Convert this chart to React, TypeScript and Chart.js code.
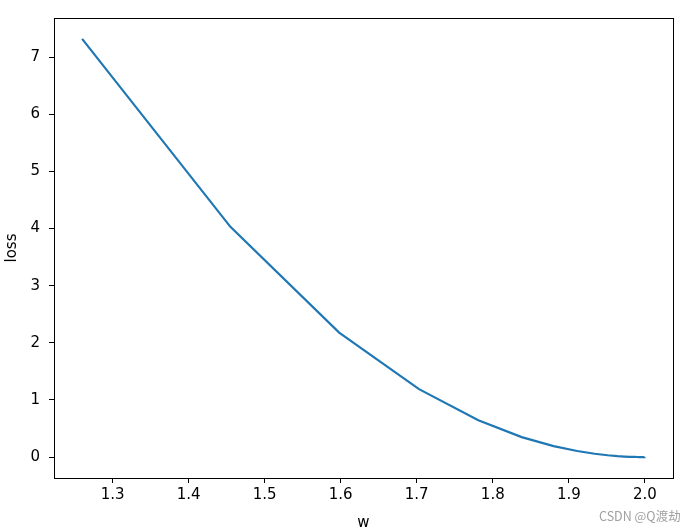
import React, { useEffect, useRef } from "react";
import { Chart, registerables } from "chart.js";

Chart.register(...registerables);

const wValues = [1.26, 1.455, 1.598, 1.703, 1.781, 1.838, 1.88, 1.911, 1.934, 1.951, 1.964, 1.973, 1.98, 1.986, 1.99, 1.992, 1.994, 1.996, 1.997, 1.998, 1.9985, 1.999, 1.9995];
const lossValues = [7.32, 4.03, 2.18, 1.19, 0.645, 0.35, 0.193, 0.106, 0.058, 0.032, 0.017, 0.0097, 0.0054, 0.0026, 0.0013, 0.0009, 0.0005, 0.0002, 0.0001, 0.00005, 0.00003, 0.00001, 0.0];
const xTicks = [1.3, 1.4, 1.5, 1.6, 1.7, 1.8, 1.9, 2.0];
const yTicks = [0, 1, 2, 3, 4, 5, 6, 7];

const FONT = "'DejaVu Sans', sans-serif";

const frame = {
  id: "frame",
  afterDraw(chart: any) {
    const { ctx, chartArea } = chart;
    ctx.save();
    ctx.strokeStyle = "#000";
    ctx.lineWidth = 1;
    ctx.strokeRect(Math.round(chartArea.left) + 0.5, Math.round(chartArea.top) + 0.5, Math.round(chartArea.right - chartArea.left), Math.round(chartArea.bottom - chartArea.top));
    ctx.restore();
  },
};

export default function App() {
  const ref = useRef<HTMLCanvasElement>(null);
  useEffect(() => {
    const chart = new Chart(ref.current!, {
      type: "scatter",
      data: {
        datasets: [
          {
            data: wValues.map((w, i) => ({ x: w, y: lossValues[i] })),
            showLine: true,
            borderColor: "#1f77b4",
            borderWidth: 2.2,
            pointRadius: 0,
            tension: 0,
          },
        ],
      },
      options: {
        animation: false,
        responsive: false,
        maintainAspectRatio: false,
        layout: { padding: { top: 16, right: 23, left: 3, bottom: 0 } },
        plugins: { legend: { display: false }, tooltip: { enabled: false } },
        scales: {
          x: {
            type: "linear",
            min: 1.223,
            max: 2.037,
            afterBuildTicks: (s: any) => {
              s.ticks = xTicks.map((v) => ({ value: v }));
            },
            afterFit: (s: any) => {
              s.height = 54;
            },
            grid: { drawOnChartArea: false, drawTicks: true, tickLength: 5, tickColor: "#000", color: "#000" },
            border: { display: false },
            ticks: {
              color: "#000",
              font: { family: FONT, size: 15 },
              padding: 3,
              maxRotation: 0,
              autoSkip: false,
              callback: (v: any) => Number(v).toFixed(1),
            },
            title: { display: true, text: "w", color: "#000", font: { family: FONT, size: 15 }, padding: { top: 0, bottom: 0 } },
          },
          y: {
            type: "linear",
            min: -0.366,
            max: 7.686,
            afterBuildTicks: (s: any) => {
              s.ticks = yTicks.map((v) => ({ value: v }));
            },
            afterFit: (s: any) => {
              s.width = 51;
            },
            grid: { drawOnChartArea: false, drawTicks: true, tickLength: 5, tickColor: "#000", color: "#000" },
            border: { display: false },
            ticks: {
              color: "#000",
              font: { family: FONT, size: 15 },
              padding: 9,
              autoSkip: false,
              callback: (v: any) => String(v),
            },
            title: { display: true, text: "loss", color: "#000", font: { family: FONT, size: 15 }, padding: { top: 0, bottom: 0 } },
          },
        },
      },
      plugins: [frame],
    } as any);
    return () => chart.destroy();
  }, []);
  return (
    <div style={{ position: "fixed", left: 0, top: 0, width: 696, height: 532, background: "#fff" }}>
      <canvas ref={ref} width={696} height={532} style={{ width: 696, height: 532 }} />
      <span
        style={{
          position: "absolute",
          left: 599,
          top: 506,
          fontFamily: "'Noto Sans CJK SC', sans-serif",
          fontSize: 12.5,
          color: "#a0a0a0",
          whiteSpace: "nowrap",
        }}
      >
        CSDN @Q渡劫
      </span>
    </div>
  );
}
